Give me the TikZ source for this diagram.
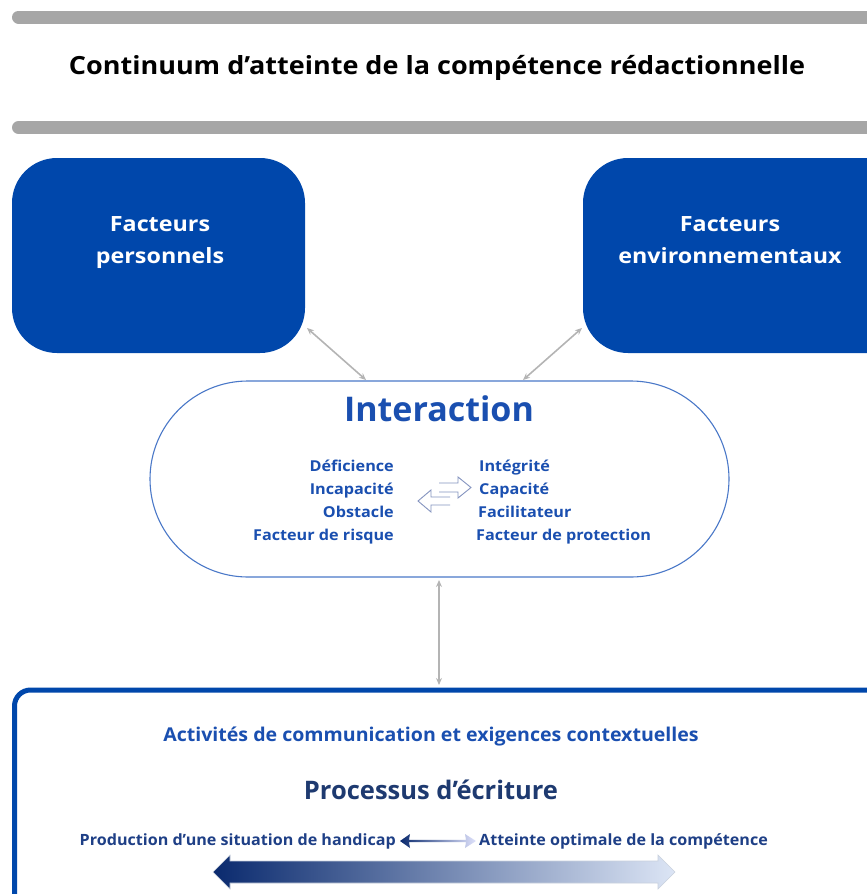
\documentclass[tikz,border=0pt]{standalone}
\usepackage{fontspec}
\setmainfont{Open Sans}
\usetikzlibrary{arrows.meta}
\definecolor{barg}{HTML}{A6A6A6}
\definecolor{boxb}{HTML}{0047AB}
\definecolor{txtb}{HTML}{1A4FB0}
\definecolor{txtn}{HTML}{1E3A70}
\definecolor{txtm}{HTML}{1E3F86}
\definecolor{arrg}{HTML}{B4B4B4}
\definecolor{ringb}{HTML}{4A78C8}
\definecolor{hollowc}{HTML}{8594C0}
\definecolor{navyg}{HTML}{0A2A6E}
\definecolor{lightg}{HTML}{DCE5F5}
\newcommand{\wx}[2]{\scalebox{#1}[1]{#2}}
\tikzset{
  every node/.style={inner sep=0pt, font=\bfseries},
  factbox/.style={fill=boxb, rounded corners=45pt, minimum width=293pt, minimum height=195pt},
  factxt/.style={text=white, align=center, font=\bfseries\fontsize{21}{32}\selectfont},
  grayarr/.style={draw=arrg, line width=1.6pt, {Stealth[length=7pt,width=6pt]}-{Stealth[length=7pt,width=6pt]}},
  listl/.style={text=txtb, anchor=base east, font=\bfseries\fontsize{15}{16}\selectfont},
  listr/.style={text=txtb, anchor=base west, font=\bfseries\fontsize{15}{16}\selectfont},
  hollow/.style={draw=hollowc, line width=0.9pt, fill=white, line join=miter}
}
\begin{document}
\begin{tikzpicture}[x=1pt,y=-1pt]
\useasboundingbox (0,0) rectangle (867,894);
\clip (0,0) rectangle (867,894);
% gray bars
\draw[barg, line width=13pt, line cap=round] (18.5,17) -- (900,17);
\draw[barg, line width=13pt, line cap=round] (18.5,127.5) -- (900,127.5);
\node[font=\bfseries\fontsize{25}{28}\selectfont] (title) at (437,68) {\wx{1.08}{Continuum d’atteinte de la compétence rédactionnelle}};
% factor boxes
\node[factbox] (pers) at (158.5,255.5) {};
\node[factbox, minimum width=340pt] (env) at (753,255.5) {};
\node[factxt] (perst) at (160,241) {\wx{1.11}{\begin{tabular}{@{}c@{}}Facteurs\\personnels\end{tabular}}};
\node[factxt] (envt) at (730,241) {\wx{1.11}{\begin{tabular}{@{}c@{}}Facteurs\\environnementaux\end{tabular}}};
% interaction
\node[draw=ringb, line width=1.1pt, fill=white, rounded corners=98pt, minimum width=579pt, minimum height=196pt] (inter) at (439.5,479) {};
\node[text=txtb, font=\bfseries\fontsize{34}{38}\selectfont] (intt) at (439,409) {Interaction};
\node[listl] (l1) at (394,471.5) {\wx{1.08}{Déficience}};
\node[listl] (l2) at (394,494.5) {\wx{1.08}{Incapacité}};
\node[listl] (l3) at (394,517.5) {\wx{1.08}{Obstacle}};
\node[listl] (l4) at (394,540.5) {\wx{1.08}{Facteur de risque}};
\node[listr] (r1) at (479,471.5) {\wx{1.08}{Intégrité}};
\node[listr] (r2) at (479,494.5) {\wx{1.08}{Capacité}};
\node[listr] (r3) at (478,517.5) {\wx{1.08}{Facilitateur}};
\node[listr] (r4) at (476,540.5) {\wx{1.08}{Facteur de protection}};
% hollow exchange arrows
\draw[hollow] (439,483) -- (458,483) -- (458,477) -- (471,487.5) -- (458,498) -- (458,492) -- (439,492);
\draw[hollow] (450,497) -- (431,497) -- (431,490) -- (418,501) -- (431,512) -- (431,505) -- (450,505);
% connectors
\coordinate (pa) at (307,328);
\coordinate (pb) at (366,380);
\coordinate (ea) at (582,328);
\coordinate (eb) at (523,380);
\draw[grayarr] (pa) -- (pb);
\draw[grayarr] (ea) -- (eb);
\coordinate (ia) at (439,580);
\coordinate (ib) at (439,685);
\draw[grayarr] (ia) -- (ib);
% bottom box
\node[draw=boxb, line width=5pt, fill=white!97!blue!3, rounded corners=16pt, minimum width=900pt, minimum height=240pt] (proc) at (464.5,810) {};
\node[text=txtb, font=\bfseries\fontsize{19}{22}\selectfont] (act) at (431,736) {\wx{1.03}{Activités de communication et exigences contextuelles}};
\node[text=txtn, font=\bfseries\fontsize{25.5}{30}\selectfont] (proct) at (431,790) {Processus d’écriture};
\node[text=txtm, anchor=east, font=\bfseries\fontsize{15.5}{17}\selectfont] (prod) at (396,841) {\wx{1.04}{Production d’une situation de handicap}};
\node[text=txtm, anchor=west, font=\bfseries\fontsize{15.5}{17}\selectfont] (att) at (479,841) {\wx{1.04}{Atteinte optimale de la compétence}};
% small gradient arrow
\shade[left color=navyg, right color=lightg!80!blue!40, draw=none]
  (400,841) -- (410,834) -- (409,839.8) -- (466,839.8) -- (465,834) -- (476,841) -- (465,848) -- (466,842.2) -- (409,842.2) -- (410,848) -- cycle;
% big gradient arrow
\shade[left color=navyg, right color=lightg, draw=lightg!80!gray, line width=0.6pt]
  (213,872) -- (230,855) -- (230,861) -- (658,861) -- (658,855) -- (675,872) -- (658,889) -- (658,883) -- (230,883) -- (230,889) -- cycle;
\end{tikzpicture}
\end{document}
